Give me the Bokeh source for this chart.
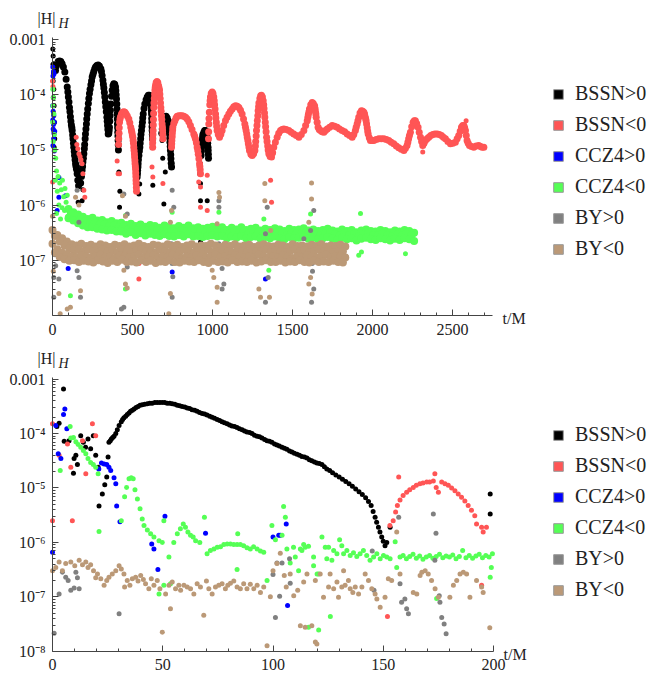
import numpy as np
from bokeh.plotting import figure
from bokeh.models import Range1d, FixedTicker, Label, Legend, LegendItem, BasicTickFormatter
from bokeh.layouts import column
from bokeh.embed import file_html
from bokeh.resources import INLINE

SERIES = ["BSSN>0", "BSSN<0", "CCZ4>0", "CCZ4<0", "BY>0", "BY<0"]
COLORS = ["#000000", "#ff5555", "#0000ff", "#55ff55", "#808080", "#bb9977"]

TOP_X_TICKS = [0, 500, 1000, 1500, 2000, 2500]
BOT_X_TICKS = [0, 50, 100, 150, 200]
TOP_Y_TICKS = [1e-3, 1e-4, 1e-5, 1e-6, 1e-7]
BOT_Y_TICKS = [1e-3, 1e-4, 1e-5, 1e-6, 1e-7, 1e-8]
Y_TICK_TEXT = {1e-3: "0.001", 1e-4: "10\u207b\u2074", 1e-5: "10\u207b\u2075",
               1e-6: "10\u207b\u2076", 1e-7: "10\u207b\u2077", 1e-8: "10\u207b\u2078"}

# ---------------- top panel data: (t/M, log10|H|) ----------------
TOP_BSSN_POS_CURVE = [
    (19,-3.56),(24,-3.48),(29,-3.44),(36,-3.40),(44,-3.39),(52,-3.40),(60,-3.44),(68,-3.50),(77,-3.59),
    (85,-3.72),(92,-3.86),(96,-3.95),(99,-4.04),(103,-4.13),(106,-4.23),(109,-4.31),(112,-4.40),(115,-4.48),
    (118,-4.55),(121,-4.60),(123,-4.65),(126,-4.73),(128,-4.80),(131,-4.88),(133,-4.95),(136,-5.03),(138,-5.10),
    (141,-5.18),(144,-5.25),(147,-5.30),(150,-5.35),(154,-5.43),(158,-5.55),(163,-5.65),
    (176,-5.60),(181,-5.48),(185,-5.37),(188,-5.30),(190,-5.22),(193,-5.15),(196,-5.07),(199,-4.98),(201,-4.90),
    (204,-4.80),(206,-4.71),(209,-4.62),(212,-4.53),(214,-4.44),(217,-4.35),(220,-4.26),(224,-4.16),(227,-4.07),
    (231,-3.98),(235,-3.90),(240,-3.82),(244,-3.75),(248,-3.68),(253,-3.63),(258,-3.58),(264,-3.53),(269,-3.50),
    (277,-3.47),(285,-3.46),(293,-3.48),(302,-3.53),(306,-3.58),(310,-3.65),(315,-3.74),(318,-3.81),(321,-3.88),
    (324,-3.96),(327,-4.04),(330,-4.13),(333,-4.22),(336,-4.31),(340,-4.41),(342,-4.48),(344,-4.56),(346,-4.63),
    (348,-4.71),(352,-4.70),(354,-4.65),(356,-4.59),(358,-4.48),(360,-4.38),(362,-4.28),(365,-4.17),(369,-4.03),
    (373,-3.92),(378,-3.84),(383,-3.80),(389,-3.81),(394,-3.86),(396,-3.93),(398,-4.00),(400,-4.08),(402,-4.17),
    (403,-4.26),(404,-4.35),(405,-4.44),(406,-4.53),(407,-4.60),(408,-4.68),(409,-4.75),(410,-4.83),(411,-4.91),
    (412,-5.00),
    (529,-5.49),(531,-5.43),(532,-5.37),(534,-5.31),(535,-5.25),(537,-5.18),(540,-5.10),(543,-5.02),(546,-4.95),
    (548,-4.88),(551,-4.80),(553,-4.72),(556,-4.65),(559,-4.57),(562,-4.50),(564,-4.42),(567,-4.35),(572,-4.25),
    (577,-4.17),(585,-4.09),(592,-4.04),(599,-4.01),(606,-4.01),(611,-4.04),(614,-4.11),(616,-4.17),(617,-4.22),
    (618,-4.29),(619,-4.35),(620,-4.43),(621,-4.50),(622,-4.58),(623,-4.65),(624,-4.72),(625,-4.80),
    (683,-4.70),(686,-4.62),(688,-4.55),(692,-4.47),(696,-4.44),(703,-4.40),(710,-4.39),(717,-4.42),(723,-4.47),
    (725,-4.52),(727,-4.58),(729,-4.65),(731,-4.71),(733,-4.79),(734,-4.86),(736,-4.94),(737,-5.01),(739,-5.09),
    (740,-5.16),(742,-5.24),(744,-5.31),
    (929,-5.10),(931,-5.02),(932,-4.95),(934,-4.89),(935,-4.83),(938,-4.77),(940,-4.72),(946,-4.68),(951,-4.65),
    (956,-4.65),(962,-4.70),(967,-4.77),(969,-4.83),(970,-4.88),(972,-4.95),(973,-5.01),(974,-5.08),(975,-5.15),
]
TOP_BSSN_POS_DOTS = [
    (2,-3.17),(4,-3.30),(3,-3.45),(6,-3.60),(4,-3.75),(8,-3.90),(5,-4.05),(10,-4.20),(6,-4.35),(12,-4.50),
    (8,-4.65),(14,-4.80),(10,-4.95),(160,-5.95),(185,-5.92),(190,-5.72),(415,-5.40),(419,-6.04),(421,-5.75),
    (540,-5.80),(545,-5.62),(627,-5.64),(623,-4.90),(685,-4.83),(689,-5.15),(696,-5.98),(705,-5.40),
    (925,-5.25),(920,-5.43),(925,-5.61),(925,-5.92),(967,-5.92),(925,-6.67),
]
TOP_BSSN_NEG_CURVE = [
    (413,-4.90),(414,-4.80),(416,-4.70),(417,-4.60),(419,-4.50),(422,-4.44),(425,-4.40),(431,-4.35),(438,-4.32),
    (446,-4.31),(453,-4.32),(460,-4.35),(468,-4.39),(477,-4.44),(483,-4.51),(489,-4.59),(493,-4.64),(496,-4.68),
    (499,-4.73),(502,-4.77),(504,-4.83),(506,-4.88),(508,-4.95),(510,-5.01),(512,-5.07),(513,-5.13),(515,-5.19),
    (516,-5.25),(518,-5.30),(519,-5.35),(520,-5.42),(521,-5.48),(522,-5.55),(523,-5.61),(524,-5.68),(525,-5.75),
    (626,-4.95),(626,-4.87),(627,-4.80),(628,-4.72),(629,-4.65),(630,-4.55),(631,-4.45),(632,-4.34),(633,-4.23),
    (634,-4.15),(636,-4.07),(638,-3.99),(640,-3.92),(642,-3.87),(644,-3.83),(648,-3.78),(653,-3.76),(658,-3.78),
    (663,-3.84),(666,-3.88),(669,-3.92),(671,-3.99),(673,-4.07),(675,-4.15),(677,-4.23),(679,-4.30),(681,-4.38),
    (683,-4.45),(685,-4.53),(687,-4.59),(688,-4.65),(689,-4.72),(690,-4.80),
    (744,-4.95),(745,-4.89),(746,-4.83),(748,-4.76),(749,-4.70),(751,-4.64),(752,-4.59),(758,-4.52),(765,-4.47),
    (772,-4.42),(779,-4.39),(790,-4.38),(800,-4.38),(810,-4.38),(821,-4.39),(832,-4.41),(842,-4.44),(852,-4.49),
    (862,-4.56),(872,-4.63),(883,-4.71),(888,-4.75),(893,-4.80),(899,-4.87),(904,-4.95),(908,-5.01),(911,-5.08),
    (915,-5.16),(919,-5.25),(921,-5.30),(923,-5.36),(925,-5.43),
    (975,-4.80),(976,-4.67),(977,-4.53),(978,-4.43),(980,-4.32),(983,-4.18),(985,-4.11),(987,-4.04),(992,-3.98),
    (998,-3.95),(1003,-3.98),(1008,-4.04),(1011,-4.11),(1013,-4.18),(1016,-4.26),(1019,-4.35),(1021,-4.42),
    (1024,-4.50),(1026,-4.57),(1029,-4.65),(1036,-4.72),(1044,-4.77),(1052,-4.72),(1060,-4.65),(1070,-4.56),
    (1081,-4.47),(1091,-4.41),(1102,-4.35),(1112,-4.30),(1123,-4.26),(1133,-4.22),(1144,-4.20),(1155,-4.21),
    (1165,-4.23),(1175,-4.28),(1185,-4.35),(1194,-4.44),(1202,-4.53),(1206,-4.59),(1210,-4.65),(1214,-4.71),
    (1217,-4.77),(1221,-4.83),(1224,-4.89),(1228,-4.95),(1231,-5.01),(1240,-5.08),(1248,-5.10),(1257,-5.07),
    (1265,-5.01),(1268,-4.93),(1270,-4.85),(1273,-4.75),(1275,-4.65),(1278,-4.56),(1280,-4.47),(1283,-4.38),
    (1285,-4.29),(1288,-4.22),(1290,-4.15),(1296,-4.07),(1301,-4.02),(1306,-4.01),(1312,-4.04),(1317,-4.11),
    (1320,-4.18),(1322,-4.25),(1325,-4.33),(1327,-4.41),(1330,-4.50),(1332,-4.58),(1335,-4.67),(1338,-4.77),
    (1341,-4.85),(1345,-4.93),(1348,-5.00),(1352,-5.07),(1360,-5.12),(1369,-5.13),(1376,-5.05),(1383,-4.95),
    (1393,-4.86),(1404,-4.77),(1414,-4.70),(1425,-4.65),(1435,-4.63),(1446,-4.62),(1461,-4.63),(1477,-4.65),
    (1492,-4.68),(1508,-4.71),(1524,-4.74),(1540,-4.77),(1555,-4.72),(1571,-4.65),(1582,-4.56),(1592,-4.47),
    (1596,-4.41),(1599,-4.36),(1603,-4.31),(1606,-4.26),(1614,-4.18),(1623,-4.14),(1630,-4.16),(1638,-4.20),
    (1641,-4.25),(1643,-4.30),(1646,-4.35),(1648,-4.41),(1654,-4.50),(1660,-4.59),(1667,-4.63),(1675,-4.65),
    (1685,-4.67),(1696,-4.68),(1706,-4.65),(1717,-4.62),(1732,-4.59),(1748,-4.56),(1763,-4.57),(1779,-4.59),
    (1794,-4.62),(1810,-4.65),(1826,-4.67),(1842,-4.71),(1857,-4.74),(1873,-4.77),(1883,-4.72),(1893,-4.65),
    (1898,-4.59),(1904,-4.53),(1909,-4.47),(1914,-4.41),(1922,-4.33),(1931,-4.29),(1939,-4.30),(1946,-4.32),
    (1950,-4.35),(1953,-4.39),(1957,-4.43),(1960,-4.47),(1963,-4.53),(1967,-4.60),(1970,-4.66),(1973,-4.71),
    (1980,-4.78),(1987,-4.83),(1998,-4.83),(2008,-4.83),(2023,-4.81),(2039,-4.80),(2055,-4.80),(2071,-4.80),
    (2087,-4.81),(2102,-4.83),(2117,-4.86),(2133,-4.89),(2149,-4.93),(2164,-4.96),(2180,-4.99),(2196,-5.01),
    (2206,-4.97),(2216,-4.92),(2221,-4.86),(2226,-4.80),(2231,-4.74),(2237,-4.68),(2245,-4.58),(2254,-4.50),
    (2261,-4.47),(2268,-4.47),(2276,-4.52),(2285,-4.59),(2292,-4.68),(2300,-4.77),(2307,-4.85),(2314,-4.92),
    (2322,-4.88),(2331,-4.83),(2341,-4.80),(2352,-4.77),(2364,-4.74),(2377,-4.72),(2390,-4.71),(2404,-4.71),
    (2418,-4.72),(2431,-4.74),(2443,-4.77),(2456,-4.80),(2471,-4.85),(2487,-4.89),(2502,-4.88),(2518,-4.86),
    (2529,-4.80),(2539,-4.74),(2548,-4.66),(2556,-4.59),(2564,-4.56),(2571,-4.56),(2576,-4.60),(2581,-4.65),
    (2586,-4.74),(2591,-4.83),(2598,-4.88),(2606,-4.92),(2619,-4.94),(2633,-4.95),(2648,-4.93),(2664,-4.92),
    (2675,-4.94),(2685,-4.95),(2696,-4.95),
]
TOP_BSSN_NEG_DOTS = [
    (0,-3.75),(3,-3.85),(1,-5.58),(148,-4.77),(152,-4.90),(158,-4.98),(165,-5.07),(172,-5.12),(178,-5.18),
    (185,-5.25),(190,-5.43),(196,-5.73),(202,-5.86),(404,-5.20),(410,-5.43),(419,-5.43),(622,-5.31),(627,-5.49),
    (690,-5.61),(540,-7.06),(540,-7.34),(914,-5.58),(925,-5.67),(967,-5.46),(967,-6.10),(925,-6.04),
    (1363,-5.55),(1369,-5.95),(2314,-5.04),(2585,-4.47),
]
TOP_CCZ4_POS_DOTS = [
    (2,-3.50),(6,-3.58),(3,-3.66),(10,-3.62),(1,-4.20),(4,-4.30),(8,-4.38),(2,-4.46),(6,-4.54),(12,-4.50),
    (4,-4.62),(9,-4.70),(14,-4.66),(7,-4.80),(3,-4.92),(11,-5.02),(29,-6.10),(40,-5.50),(40,-5.86),(81,-5.83),
    (98,-7.15),(748,-7.21),(1331,-7.34),
]
TOP_CCZ4_NEG_DOTS = [
    (2,-3.90),(6,-4.05),(3,-4.20),(9,-4.35),(1,-4.50),(12,-4.72),(5,-4.85),(15,-5.00),(20,-5.15),(25,-5.38),
    (18,-5.55),(35,-5.48),(45,-5.60),(30,-5.75),(55,-5.72),(62,-5.55),(70,-5.85),(78,-5.70),(85,-5.95),
    (92,-5.82),(40,-6.00),(60,-6.05),(25,-6.15),(50,-6.25),(75,-6.10),(95,-6.20),
    (456,-6.19),(748,-6.13),(456,-7.52),(112,-7.64),(1040,-6.13),(1321,-6.25),(1613,-6.16),(1352,-7.18),
    (1925,-6.15),(1914,-6.91),(1931,-6.85),(2206,-6.88),
]
# CCZ4<0 noise band: rows of values sampled every 30 t/M, first sample times per row
BAND_STEP = 30
TOP_CCZ4_NEG_BAND_T0 = [100, 115, 100]
TOP_CCZ4_NEG_BAND = [
    [-6.07,-6.13,-6.17,-6.21,-6.25,-6.23,-6.28,-6.27,-6.31,-6.29,-6.33,
     -6.32,-6.36,-6.34,-6.38,-6.35,-6.39,-6.36,-6.38,-6.41,-6.37,-6.40,-6.42,-6.38,-6.41,-6.37,-6.42,-6.40,-6.43,-6.41,-6.39,
     -6.42,-6.40,-6.45,-6.41,-6.44,-6.40,-6.45,-6.43,-6.41,-6.46,-6.43,-6.45,-6.42,-6.44,-6.47,-6.43,-6.45,-6.44,-6.42,-6.46,
     -6.44,-6.47,-6.45,-6.43,-6.46,-6.48,-6.44,-6.47,-6.45,-6.49,-6.46,-6.44,-6.47,-6.48,-6.45,-6.47,-6.49,-6.46,-6.48,-6.45,-6.47,-6.50],
    [-6.15,-6.20,-6.25,-6.29,-6.32,-6.31,-6.35,-6.35,-6.38,-6.37,-6.40,
     -6.39,-6.44,-6.41,-6.45,-6.43,-6.46,-6.44,-6.45,-6.48,-6.45,-6.47,-6.49,-6.46,-6.48,-6.45,-6.49,-6.47,-6.50,-6.48,-6.46,
     -6.49,-6.48,-6.52,-6.48,-6.51,-6.48,-6.52,-6.50,-6.49,-6.53,-6.50,-6.52,-6.49,-6.51,-6.54,-6.50,-6.52,-6.51,-6.49,-6.53,
     -6.51,-6.54,-6.52,-6.50,-6.53,-6.55,-6.51,-6.54,-6.52,-6.56,-6.53,-6.51,-6.54,-6.55,-6.52,-6.54,-6.56,-6.53,-6.55,-6.52,-6.54],
    [-6.24,-6.28,-6.33,-6.37,-6.40,-6.40,-6.43,-6.44,-6.46,-6.45,-6.48,
     -6.48,-6.52,-6.49,-6.54,-6.51,-6.55,-6.52,-6.54,-6.56,-6.53,-6.56,-6.57,-6.54,-6.57,-6.53,-6.57,-6.56,-6.58,-6.56,-6.55,
     -6.57,-6.56,-6.60,-6.57,-6.59,-6.56,-6.60,-6.58,-6.57,-6.61,-6.58,-6.60,-6.57,-6.60,-6.62,-6.58,-6.60,-6.59,-6.58,-6.61,
     -6.59,-6.62,-6.60,-6.58,-6.61,-6.63,-6.59,-6.62,-6.60,-6.64,-6.61,-6.59,-6.62,-6.63,-6.60,-6.62,-6.64,-6.61,-6.63,-6.60,-6.62,-6.65],
]
TOP_BY_POS_DOTS = [
    (8,-7.31),(8,-7.67),(40,-7.34),(5,-6.50),(15,-6.90),(20,-7.10),
    (154,-5.73),(165,-6.31),(144,-6.76),(148,-6.95),(154,-7.19),(165,-7.31),(175,-7.67),
    (446,-5.80),(467,-6.16),(467,-7.00),(467,-7.12),(446,-7.85),(431,-7.88),
    (748,-5.73),(758,-6.04),(744,-6.70),(748,-7.06),(748,-7.67),(740,-6.90),(752,-7.30),
    (1040,-5.92),(1040,-6.04),(1040,-6.70),(1044,-6.85),(1060,-7.15),(1071,-7.43),(1060,-7.52),
    (1342,-6.04),(1331,-6.52),(1321,-6.76),(1336,-6.94),(1348,-7.31),(1331,-7.76),
    (1633,-6.10),(1613,-6.46),(1571,-6.61),(1613,-6.82),(1623,-7.06),(1633,-7.52),(1619,-7.76),(1625,-7.20),
]
TOP_BY_NEG_DOTS = [
    (0,-6.20),(5,-7.20),(40,-7.60),(48,-7.97),(112,-7.85),(92,-7.88),(144,-5.86),(175,-7.55),(165,-6.00),
    (437,-5.83),(456,-6.20),(446,-7.18),(456,-7.43),(467,-7.50),(737,-6.31),(737,-7.60),(727,-7.97),(744,-6.10),
    (1040,-5.77),(1044,-5.86),(1029,-6.34),(998,-7.18),(1008,-7.31),(1029,-7.49),(1029,-7.76),
    (1327,-5.61),(1327,-5.92),(1363,-6.46),(1290,-7.52),(1300,-7.67),(1356,-7.67),
    (1619,-5.60),(1619,-5.89),(1602,-6.31),(1613,-7.31),(1602,-7.43),(1623,-7.61),
]
# BY<0 noise band
TOP_BY_NEG_BAND_T0 = [0, 15, 0, 15]
TOP_BY_NEG_BAND = [
    [-6.45,-6.54,-6.60,-6.66,-6.71,-6.73,-6.70,-6.74,-6.72,-6.75,-6.71,-6.73,-6.76,-6.72,-6.74,-6.71,-6.75,-6.73,
     -6.70,-6.74,-6.76,-6.72,-6.73,-6.75,-6.71,-6.74,-6.72,-6.76,-6.73,-6.71,-6.75,-6.73,-6.74,-6.70,-6.73,-6.76,
     -6.72,-6.74,-6.71,-6.75,-6.73,-6.72,-6.76,-6.73,-6.71,-6.74,-6.75,-6.72,-6.73,-6.76,-6.71,-6.74,-6.73,-6.75,
     -6.72,-6.74,-6.71,-6.75,-6.73,-6.74,-6.72,-6.75],
    [-6.56,-6.66,-6.73,-6.78,-6.82,-6.81,-6.84,-6.81,-6.83,-6.85,-6.81,-6.84,-6.82,-6.86,-6.81,-6.83,-6.85,-6.82,
     -6.80,-6.84,-6.83,-6.86,-6.81,-6.83,-6.85,-6.82,-6.84,-6.81,-6.83,-6.86,-6.82,-6.84,-6.81,-6.85,-6.83,-6.82,
     -6.84,-6.86,-6.81,-6.83,-6.85,-6.82,-6.84,-6.83,-6.81,-6.85,-6.82,-6.84,-6.86,-6.83,-6.81,-6.84,-6.82,-6.85,
     -6.83,-6.81,-6.84,-6.82,-6.85,-6.83,-6.84],
    [-6.70,-6.80,-6.86,-6.89,-6.92,-6.94,-6.91,-6.93,-6.95,-6.92,-6.90,-6.94,-6.92,-6.96,-6.91,-6.93,-6.95,-6.92,
     -6.90,-6.94,-6.93,-6.91,-6.95,-6.92,-6.94,-6.90,-6.93,-6.96,-6.92,-6.94,-6.91,-6.93,-6.95,-6.92,-6.90,-6.94,
     -6.92,-6.96,-6.91,-6.93,-6.95,-6.92,-6.94,-6.90,-6.93,-6.95,-6.92,-6.94,-6.91,-6.93,-6.96,-6.92,-6.94,-6.91,
     -6.93,-6.95,-6.92,-6.90,-6.94,-6.92,-6.93,-6.95],
    [-6.86,-6.94,-6.98,-7.01,-7.00,-7.03,-7.01,-7.02,-7.04,-7.00,-7.02,-7.05,-7.01,-7.03,-6.99,-7.03,-7.02,-7.04,
     -7.00,-7.03,-7.01,-7.05,-7.02,-7.03,-7.00,-7.03,-7.04,-7.01,-7.02,-7.03,-7.00,-7.03,-7.05,-7.01,-7.03,-7.02,
     -7.04,-7.00,-7.03,-7.02,-7.03,-7.01,-7.04,-7.02,-7.00,-7.03,-7.03,-7.01,-7.04,-7.02,-7.03,-7.00,-7.03,-7.04,
     -7.01,-7.03,-7.02,-7.03,-7.01,-7.03,-7.04],
]

# ---------------- bottom panel data: (t/M, log10|H|) ----------------
BOT_BSSN_POS = [
    (5.0,-3.18),(3.0,-3.81),(2.0,-3.87),(5.3,-4.14),(7.5,-4.13),(9.8,-4.46),(10.6,-4.40),(9.5,-4.73),(11.3,-4.57),
    (12.8,-4.04),(14.0,-4.16),(15.0,-4.25),(16.1,-4.10),(17.3,-4.28),(18.5,-4.04),(19.6,-4.40),(20.7,-4.62),
    (21.1,-5.33),(22.6,-5.11),(23.7,-4.94),(24.6,-4.80),(25.2,-4.43),
    (25.6,-4.16),(26.2,-4.13),(26.7,-4.10),(27.3,-4.07),(27.9,-4.05),(28.7,-4.00),(29.4,-3.93),(30.2,-3.85),
    (31.2,-3.78),(31.8,-3.74),(32.4,-3.71),(33.2,-3.68),(33.9,-3.65),(34.7,-3.62),(35.4,-3.59),(36.2,-3.57),
    (37.0,-3.55),(37.9,-3.52),(38.8,-3.50),(39.7,-3.48),(40.7,-3.47),(41.8,-3.46),(43.0,-3.45),(44.1,-3.44),
    (45.2,-3.44),(46.4,-3.43),(47.5,-3.43),(48.7,-3.43),(49.8,-3.43),(50.9,-3.43),(52.0,-3.44),(53.2,-3.44),
    (54.3,-3.45),(55.5,-3.46),(56.6,-3.48),(57.7,-3.49),(58.8,-3.50),(60.0,-3.51),(61.1,-3.53),(62.2,-3.54),
    (63.3,-3.56),(64.5,-3.57),(65.6,-3.59),(66.7,-3.61),(67.9,-3.63),(69.0,-3.64),(70.1,-3.66),(71.3,-3.68),
    (72.4,-3.70),(73.5,-3.72),(74.7,-3.74),(75.8,-3.76),(76.9,-3.78),(78.0,-3.80),(79.2,-3.82),(80.3,-3.84),
    (81.4,-3.86),(82.6,-3.87),(83.7,-3.89),(84.8,-3.91),(86.0,-3.93),(87.1,-3.95),(88.2,-3.97),(89.4,-3.98),
    (90.5,-4.00),(91.6,-4.03),(92.8,-4.05),(93.9,-4.06),(95.0,-4.08),(96.2,-4.11),(97.3,-4.13),(98.4,-4.14),
    (99.5,-4.16),(100.7,-4.19),(101.8,-4.21),(102.9,-4.23),(104.1,-4.25),(105.2,-4.27),(106.3,-4.29),
    (107.5,-4.32),(108.6,-4.34),(109.7,-4.36),(110.9,-4.38),(112.0,-4.40),(113.1,-4.42),(114.3,-4.43),
    (115.4,-4.45),(116.5,-4.48),(117.6,-4.50),(118.8,-4.52),(119.9,-4.54),(121.0,-4.55),(122.2,-4.57),
    (123.3,-4.61),(124.4,-4.65),(125.7,-4.68),(127.0,-4.72),(128.5,-4.76),(130.0,-4.80),(131.5,-4.84),
    (133.0,-4.88),(134.5,-4.92),(136.0,-4.97),(137.5,-5.02),(139.0,-5.07),(140.5,-5.12),(142.0,-5.18),
    (143.3,-5.25),(144.5,-5.32),(145.4,-5.43),(146.3,-5.54),(147.0,-5.63),(147.8,-5.72),(148.5,-5.81),
    (149.3,-5.90),(150.0,-5.98),(150.8,-6.06),(151.6,-6.00),(153.1,-5.72),(198.5,-5.48),(198.5,-5.11),
]
BOT_BSSN_NEG = [
    (0.0,-5.60),(0.0,-3.82),(3.0,-4.40),(6.8,-4.19),(8.3,-4.62),(9.0,-5.60),(13.6,-4.13),(15.1,-4.74),
    (18.1,-3.82),(19.6,-4.04),
    (153.0,-5.69),(154.5,-5.60),(155.6,-5.44),(156.4,-5.32),(157.6,-5.22),(159.0,-5.14),(160.6,-5.08),
    (162.0,-5.03),(163.6,-4.99),(165.0,-4.95),(166.6,-4.92),(168.0,-4.91),(169.7,-4.89),(171.0,-4.89),
    (172.7,-4.87),(173.4,-4.74),(174.0,-4.99),(175.0,-5.08),(176.5,-4.89),(178.0,-4.92),(179.5,-4.95),
    (181.0,-5.00),(182.5,-5.05),(184.0,-5.11),(185.5,-5.17),(187.0,-5.24),(188.5,-5.32),(190.0,-5.41),
    (191.5,-5.51),(192.3,-5.66),(194.6,-5.72),(195.3,-5.81),(196.8,-5.72),(157.0,-4.80),(194.6,-6.79),
    (151.9,-7.36),
]
BOT_CCZ4_POS = [
    (0.0,-6.18),(1.5,-3.85),(2.6,-4.37),(3.8,-4.46),(5.0,-3.65),(5.6,-3.55),(6.5,-3.91),(21.0,-4.65),
    (22.2,-4.54),(23.4,-4.56),(24.6,-4.57),(25.6,-4.62),(26.4,-4.68),(27.9,-4.81),(28.7,-4.92),(29.1,-5.33),
    (30.6,-5.62),(45.0,-6.03),(46.0,-6.12),(47.8,-6.50),(51.0,-5.52),(69.4,-5.83),(100.0,-5.90),(102.6,-5.87),
    (103.3,-5.87),(106.0,-5.66),(106.6,-7.16),
]
BOT_CCZ4_NEG = [
    (3.5,-4.68),(8.0,-3.87),(8.3,-4.08),(9.5,-4.07),(10.6,-4.15),(11.6,-4.20),(12.8,-4.25),(14.0,-4.31),
    (15.1,-4.37),(16.1,-4.46),(17.3,-4.53),(18.5,-4.57),(19.6,-4.62),(20.7,-4.74),(21.1,-5.80),(31.2,-5.60),
    (32.7,-5.16),(33.6,-4.99),(34.7,-4.83),(35.7,-4.81),(36.6,-4.83),(37.4,-5.03),(38.5,-5.20),(39.7,-5.38),
    (40.7,-5.57),(41.5,-5.69),(43.0,-5.77),(44.5,-5.84),(46.0,-5.90),(48.3,-5.97),(49.8,-6.00),(50.5,-5.60),
    (52.8,-6.27),(53.5,-6.76),(55.0,-6.00),(56.6,-5.84),(58.0,-5.75),(59.3,-5.66),(60.3,-5.72),(61.4,-5.81),
    (62.6,-5.87),(63.8,-5.90),(64.9,-5.97),(66.8,-6.00),(68.9,-5.54),(70.1,-6.21),(71.6,-6.15),(73.2,-6.12),
    (74.7,-6.09),(76.2,-6.08),(77.7,-6.04),(79.2,-6.03),(80.7,-6.03),(82.2,-6.04),(83.7,-6.04),(84.0,-5.84),
    (85.2,-6.04),(86.7,-6.06),(88.2,-6.10),(89.7,-6.12),(91.2,-6.08),(92.8,-6.12),(94.3,-6.16),(95.8,-6.18),
    (97.3,-6.70),(99.5,-5.69),(101.1,-5.95),(104.1,-5.87),(104.8,-5.34),(105.6,-5.54),(106.3,-6.12),
    (107.8,-6.38),(109.3,-6.09),(110.1,-6.27),(111.6,-6.52),(113.1,-6.15),(114.6,-6.09),(116.1,-7.56),
    (118.4,-6.43),(120.7,-6.58),(48.3,-6.95),(50.5,-6.79),(83.7,-6.50),
    (112.4,-6.12),(113.9,-6.04),(116.1,-6.07),(118.4,-6.27),(122.2,-5.90),(123.7,-6.09),(124.4,-6.30),
    (125.2,-6.09),(126.7,-6.33),(127.5,-6.15),(129.0,-6.21),(130.2,-5.95),(131.2,-6.06),(132.0,-6.21),
    (133.5,-6.15),(135.0,-6.24),(136.5,-6.19),(138.0,-6.26),(139.5,-6.21),(141.0,-6.15),(142.5,-6.24),
    (144.0,-6.33),(145.6,-6.27),(147.1,-6.21),(148.6,-6.30),(150.1,-6.24),(151.6,-6.27),(153.1,-6.30),
    (155.4,-5.99),(156.1,-6.46),(157.6,-6.27),(159.0,-6.24),(160.5,-6.30),(162.0,-6.26),(163.5,-6.22),
    (165.0,-6.29),(166.5,-6.25),(168.0,-6.31),(169.5,-6.27),(171.0,-6.24),(172.5,-6.29),(174.0,-6.26),
    (175.5,-6.22),(177.0,-6.28),(178.5,-6.25),(180.0,-6.27),(181.5,-6.23),(183.0,-6.30),(184.5,-6.26),
    (186.0,-6.15),(187.5,-6.28),(189.0,-6.24),(190.5,-6.29),(192.0,-6.25),(193.5,-6.22),(195.0,-6.28),
    (196.5,-6.24),(198.0,-6.27),(199.5,-6.21),(199.0,-6.46),(198.5,-6.64),(120.0,-6.58),(126.0,-7.36),
    (120.7,-7.61),(174.2,-7.03),
]
BOT_BY_POS = [
    (0.75,-7.67),(3.0,-6.95),(4.5,-6.55),(6.0,-6.64),(7.1,-6.70),(8.3,-6.88),(9.8,-6.84),(10.6,-6.55),
    (11.3,-6.65),(12.1,-6.85),(30.2,-7.31),(100.0,-6.59),(101.8,-6.38),(101.1,-7.38),(103.0,-6.99),
    (104.1,-6.38),(107.5,-6.30),(107.8,-6.75),(145.0,-6.16),(145.8,-6.88),(157.0,-5.54),(157.6,-6.76),
    (158.3,-7.10),(159.8,-7.04),(160.6,-7.22),(161.4,-7.31),(172.7,-5.48),(173.9,-5.83),(173.4,-6.33),
    (175.4,-6.98),(175.7,-7.10),(176.5,-7.38),(177.6,-7.50),(178.5,-7.68),
]
BOT_BY_NEG = [
    (0.0,-6.52),(1.5,-6.46),(3.0,-6.36),(4.5,-6.52),(6.0,-6.39),(8.3,-6.36),(10.1,-6.43),(12.1,-6.33),
    (13.6,-6.41),(15.1,-6.36),(16.1,-6.46),(17.3,-6.41),(18.6,-6.52),(19.6,-6.65),(20.4,-6.58),(21.9,-6.67),
    (23.4,-6.79),(24.6,-6.70),(25.6,-6.64),(27.1,-6.58),(28.7,-6.52),(30.2,-6.43),(31.2,-6.49),(32.4,-6.58),
    (32.7,-6.82),(33.9,-6.70),(35.1,-6.79),(36.2,-6.67),(37.7,-6.64),(38.8,-6.71),(40.0,-6.61),(41.2,-6.68),
    (42.2,-6.76),(43.7,-6.85),(44.8,-6.67),(46.0,-6.79),(47.5,-6.70),(48.7,-6.85),(49.8,-7.65),(51.3,-6.95),
    (52.8,-6.79),(53.5,-7.22),(54.3,-6.73),(55.8,-6.85),(57.3,-6.79),(58.1,-6.88),(59.6,-6.79),(61.1,-6.82),
    (62.6,-6.85),(64.1,-6.95),(65.6,-6.76),(67.1,-6.82),(68.6,-7.34),(69.8,-6.71),(70.9,-6.85),(72.4,-6.95),
    (73.9,-6.82),(75.4,-6.79),(76.9,-6.76),(78.4,-6.85),(79.5,-6.79),(80.7,-6.75),(82.2,-6.71),(83.7,-6.82),
    (85.2,-6.85),(86.7,-6.76),(88.2,-6.85),(89.7,-6.77),(91.3,-6.85),(92.8,-6.79),(94.3,-6.92),(95.8,-6.82),
    (97.3,-7.90),(98.8,-7.00),(100.0,-6.52),(101.8,-6.39),(103.3,-6.20),(105.1,-6.61),(106.0,-6.82),
    (107.8,-6.58),(109.4,-6.98),(111.2,-6.88),(112.4,-7.53),(113.9,-6.73),(115.4,-6.58),(117.6,-7.53),
    (119.2,-6.70),(119.9,-7.87),(121.4,-6.58),(122.9,-7.01),(125.2,-6.82),(125.9,-6.58),(127.5,-6.85),
    (129.0,-6.73),(129.7,-7.01),(131.2,-6.82),(132.0,-6.52),(132.7,-6.79),(134.2,-6.70),(135.0,-6.85),
    (136.2,-6.92),(137.3,-6.82),(138.8,-6.95),(140.3,-6.82),(141.8,-6.58),(143.3,-6.70),(144.8,-6.85),
    (146.3,-6.95),(147.1,-7.04),(148.6,-7.19),(150.8,-7.01),(152.3,-6.67),(153.8,-6.70),(156.1,-5.81),
    (157.6,-6.58),(163.6,-6.92),(165.2,-6.95),(166.7,-6.61),(167.5,-6.55),(169.0,-6.52),(170.4,-6.58),
    (171.9,-6.70),(173.5,-6.85),(175.0,-7.01),(180.2,-7.01),(181.8,-6.79),(183.3,-6.70),(184.8,-6.58),
    (186.3,-6.55),(187.8,-6.58),(189.3,-7.01),(192.3,-6.70),(194.6,-6.82),(195.3,-6.92),(198.3,-7.57),
    (114.6,-7.56),(119.2,-7.83),
]

FONT = "Liberation Serif"
TEXT_COLOR = "#222222"
AXIS_COLOR = "#444444"
C = dict(zip(SERIES, COLORS))


def unzip(pairs):
    return [a for a, _ in pairs], [10.0 ** b for _, b in pairs]


def band(row, t0):
    return [t0 + BAND_STEP * i for i in range(len(row))], [10.0 ** v for v in row]


def make_panel(height, x_start, x_end, log_lo, log_hi, axis_x_end, axis_y_top,
               y_ticks, x_ticks, x_minor, legend_y):
    p = figure(width=654, height=height,
               x_range=Range1d(x_start, x_end), y_range=Range1d(10 ** log_lo, 10 ** log_hi),
               y_axis_type="log", output_backend="svg", toolbar_location=None,
               min_border=0, min_border_left=0, min_border_right=0,
               min_border_top=0, min_border_bottom=0,
               outline_line_color=None, background_fill_color="white",
               border_fill_color="white")
    p.grid.visible = False
    y_minor = [k * 10.0 ** e for e in range(-8, -3) for k in range(2, 10)]
    p.xaxis.ticker = FixedTicker(ticks=x_ticks, minor_ticks=x_minor)
    p.yaxis.ticker = FixedTicker(ticks=y_ticks, minor_ticks=y_minor)
    p.yaxis.formatter = BasicTickFormatter()
    p.yaxis.major_label_overrides = {v: Y_TICK_TEXT[v] for v in y_ticks}
    p.xaxis.fixed_location = 1e-8
    p.yaxis.fixed_location = 0
    p.xaxis.bounds = (0, axis_x_end)
    p.yaxis.bounds = (1e-8, axis_y_top)
    for ax in (p.xaxis[0], p.yaxis[0]):
        ax.axis_line_color = AXIS_COLOR
        ax.major_tick_line_color = AXIS_COLOR
        ax.minor_tick_line_color = AXIS_COLOR
        ax.major_tick_in = 6
        ax.major_tick_out = 0
        ax.minor_tick_in = 3
        ax.minor_tick_out = 0
        ax.major_label_text_font = FONT
        ax.major_label_text_font_size = "16px"
        ax.major_label_text_color = TEXT_COLOR
    p.xaxis.major_label_standoff = 8
    p.yaxis.major_label_standoff = 7

    p.add_layout(Label(x=0, y=axis_y_top, x_offset=3, y_offset=19, text="|H|", text_align="right",
                       text_baseline="middle", text_font=FONT, text_font_size="16px",
                       text_color=TEXT_COLOR))
    p.add_layout(Label(x=0, y=axis_y_top, x_offset=6, y_offset=14, text="H", text_align="left",
                       text_baseline="middle", text_font=FONT, text_font_size="14px",
                       text_font_style="italic", text_color=TEXT_COLOR))
    p.add_layout(Label(x=axis_x_end, y=1e-8, x_offset=10, y_offset=-3, text="t/M", text_align="left",
                       text_baseline="middle", text_font=FONT, text_font_size="16px",
                       text_color=TEXT_COLOR))

    # legend swatches: one point each, placed outside the visible range
    items = []
    for name, col in zip(SERIES, COLORS):
        r = p.rect(x=[x_start - 1e6], y=[1e-20], width=1, height=1, fill_color=col,
                   line_color="#999999")
        items.append(LegendItem(label=name, renderers=[r]))
    leg = Legend(items=items, location=(552, legend_y), orientation="vertical",
                 border_line_color=None, background_fill_alpha=0, padding=0, margin=0,
                 spacing=8, glyph_width=12, glyph_height=12, label_standoff=11,
                 label_height=20, label_text_font=FONT, label_text_font_size="20px",
                 label_text_color=TEXT_COLOR, label_text_baseline="middle")
    p.add_layout(leg)
    return p


def dots(p, pairs, color, size):
    t, y = unzip(pairs)
    p.scatter(t, y, size=size, color=color, line_color=None, marker="circle")


# ---------------- top panel (0.16 px per t/M, 55.2 px per decade) ----------------
top = make_panel(341, -325.0, 3762.5, -8.471, -2.2935, 2750, 1.087e-3,
                 TOP_Y_TICKS, TOP_X_TICKS, [100 * i for i in range(28) if i % 5], 81)
dots(top, TOP_BSSN_POS_CURVE, C["BSSN>0"], 7)
dots(top, TOP_BSSN_POS_DOTS, C["BSSN>0"], 5)
dots(top, TOP_BSSN_NEG_CURVE, C["BSSN<0"], 7)
dots(top, TOP_BSSN_NEG_DOTS, C["BSSN<0"], 5)
dots(top, TOP_CCZ4_POS_DOTS, C["CCZ4>0"], 5)
for row, t0 in zip(TOP_CCZ4_NEG_BAND, TOP_CCZ4_NEG_BAND_T0):
    t, y = band(row, t0)
    top.scatter(t, y, size=8, color=C["CCZ4<0"], line_color=None)
dots(top, TOP_CCZ4_NEG_DOTS, C["CCZ4<0"], 5)
dots(top, TOP_BY_POS_DOTS, C["BY>0"], 5)
for row, t0 in zip(TOP_BY_NEG_BAND, TOP_BY_NEG_BAND_T0):
    t, y = band(row, t0)
    top.scatter(t, y, size=8, color=C["BY<0"], line_color=None)
dots(top, TOP_BY_NEG_DOTS, C["BY<0"], 5)

# ---------------- bottom panel (2.205 px per t/M, 54.4 px per decade) ----------------
bot = make_panel(332, -23.58, 273.0, -8.410, -2.307, 200, 1.07e-3,
                 BOT_Y_TICKS, BOT_X_TICKS, [10 * i for i in range(21) if i % 5], 72)
dots(bot, BOT_BSSN_POS, C["BSSN>0"], 5)
dots(bot, BOT_BSSN_NEG, C["BSSN<0"], 5)
dots(bot, BOT_CCZ4_POS, C["CCZ4>0"], 5)
dots(bot, BOT_CCZ4_NEG, C["CCZ4<0"], 5)
dots(bot, BOT_BY_POS, C["BY>0"], 5)
dots(bot, BOT_BY_NEG, C["BY<0"], 5)

layout = column(top, bot)
open("out.html", "w").write(file_html(layout, INLINE))
